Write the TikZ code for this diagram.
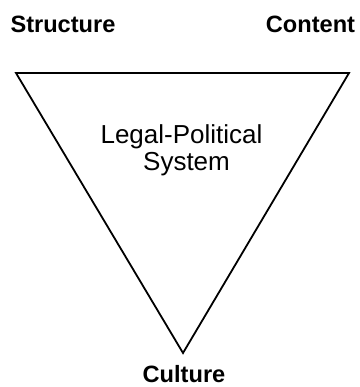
\documentclass[tikz,border=0pt]{standalone}
\usepackage{fontspec}
\setmainfont{Liberation Sans}
\begin{document}
\begin{tikzpicture}[x=1pt,y=1pt,
  corner/.style={font=\fontsize{23.6}{26}\selectfont\bfseries, anchor=base, inner sep=0pt},
  inner/.style={font=\fontsize{26}{27.7}\selectfont, anchor=base, inner sep=0pt, align=center},
  edge/.style={draw=black, line width=1.8pt, line join=miter}]
  \useasboundingbox (0,0) rectangle (359,387);
  % vertices of the inverted triangle
  \coordinate (tl) at (16,314);
  \coordinate (tr) at (349,314);
  \coordinate (bt) at (183,34);
  \draw[edge] (tl) -- (tr) -- (bt) -- cycle;
  % corner labels
  \node[corner] (structure) at (63,354) {Structure};
  \node[corner] (content) at (310.5,354) {Content};
  \node[corner] (culture) at (184,4.5) {Culture};
  % inner label
  \node[inner] (lps1) at (181.5,243.7) {Legal-Political};
  \node[inner] (lps2) at (186.5,216) {System};
\end{tikzpicture}
\end{document}
